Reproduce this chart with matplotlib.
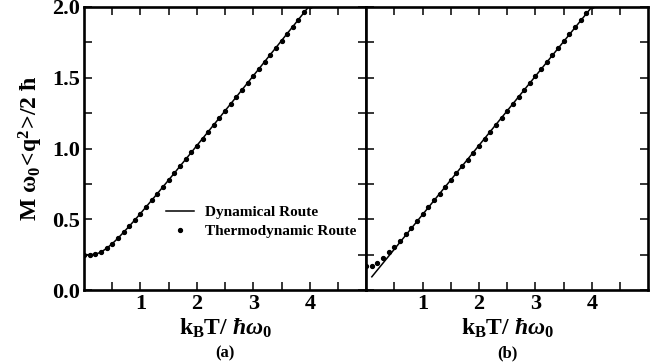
import matplotlib
matplotlib.use("Agg")
import matplotlib.pyplot as plt

plt.rcParams["font.family"] = ["Liberation Serif", "DejaVu Serif"]
plt.rcParams["font.weight"] = "bold"
plt.rcParams["mathtext.fontset"] = "custom"
plt.rcParams["mathtext.rm"] = "Liberation Serif:bold"
plt.rcParams["mathtext.bf"] = "Liberation Serif:bold"
plt.rcParams["mathtext.it"] = "Liberation Serif:italic"

# temperature grid of the plotted points (k_B T / hbar w0)
temp = [0.0, 0.1, 0.2, 0.3, 0.4, 0.5, 0.6, 0.7, 0.8, 0.9,
        1.0, 1.1, 1.2, 1.3, 1.4, 1.5, 1.6, 1.7, 1.8, 1.9,
        2.0, 2.1, 2.2, 2.3, 2.4, 2.5, 2.6, 2.7, 2.8, 2.9,
        3.0, 3.1, 3.2, 3.3, 3.4, 3.5, 3.6, 3.7, 3.8, 3.9, 4.0]

# panel (a): both routes agree
fluct_a = [0.250, 0.250, 0.253, 0.268, 0.295, 0.328, 0.366, 0.408, 0.451, 0.495,
           0.541, 0.588, 0.635, 0.682, 0.730, 0.778, 0.826, 0.875, 0.923, 0.972,
           1.021, 1.070, 1.119, 1.168, 1.217, 1.267, 1.316, 1.365, 1.415, 1.464,
           1.514, 1.563, 1.613, 1.663, 1.712, 1.762, 1.812, 1.861, 1.911, 1.961, 2.010]

# panel (b): thermodynamic points and the dynamical line
dots_b = [0.172, 0.172, 0.193, 0.228, 0.266, 0.306, 0.348, 0.396, 0.438, 0.488,
          0.535, 0.586, 0.634, 0.681, 0.729, 0.777, 0.825, 0.874, 0.922, 0.971,
          1.019, 1.068, 1.117, 1.166, 1.215, 1.265, 1.314, 1.363, 1.413, 1.462,
          1.511, 1.561, 1.610, 1.660, 1.709, 1.759, 1.809, 1.858, 1.908, 1.958, 2.008]
line_b_t = [0.1, 4.0]
line_b = [0.094, 2.0]

xticks = [0.5, 1, 1.5, 2, 2.5, 3, 3.5, 4, 4.5]
xlabels = ["", "1", "", "2", "", "3", "", "4", ""]
yticks = [0, 0.25, 0.5, 0.75, 1.0, 1.25, 1.5, 1.75, 2.0]
ylabels = ["0.0", "", "0.5", "", "1.0", "", "1.5", "", "2.0"]

fig = plt.figure(figsize=(6.67, 3.64), dpi=100)
ax_a = fig.add_axes([0.126, 0.203, 0.423, 0.778])
ax_b = fig.add_axes([0.549, 0.203, 0.423, 0.778])

ax_a.plot(temp, fluct_a, color="black", lw=1.1, label="Dynamical Route")
ax_a.plot(temp, fluct_a, "o", color="black", ms=2.8, label="Thermodynamic Route")
ax_b.plot(line_b_t, line_b, color="black", lw=1.1)
ax_b.plot(temp, dots_b, "o", color="black", ms=2.8)

for ax, tag in [(ax_a, "(a)"), (ax_b, "(b)")]:
    ax.set_xlim(0, 5)
    ax.set_ylim(0, 2.0)
    ax.set_xticks(xticks)
    ax.set_xticklabels(xlabels, fontsize=16, fontweight="bold")
    ax.set_yticks(yticks)
    ax.tick_params(direction="in", length=6, width=1.1, top=True, right=True,
                   pad=3)
    for s in ax.spines.values():
        s.set_linewidth(1.9)
    ax.set_xlabel(r"$\mathrm{k_B T/}\ \mathit{ħ}ω_\mathrm{0}$", fontsize=17,
                  labelpad=2)
    ax.text(0.5, -0.195, tag, transform=ax.transAxes, ha="center", va="top",
            fontsize=12, fontweight="bold")

ax_a.set_yticklabels(ylabels, fontsize=16, fontweight="bold")
ax_b.set_yticklabels([])
ax_a.set_ylabel(r"$\mathrm{M\ ω_0\!{<}\!q^2\!{>}\!/2\ ħ}$", fontsize=17,
                labelpad=5)

ax_a.legend(loc="upper left", bbox_to_anchor=(0.265, 0.325), frameon=False,
            borderpad=0, handlelength=1.8, handletextpad=0.7, labelspacing=0.35,
            numpoints=1, prop={"size": 11, "weight": "bold"})

fig.savefig("out.png", dpi=100)
